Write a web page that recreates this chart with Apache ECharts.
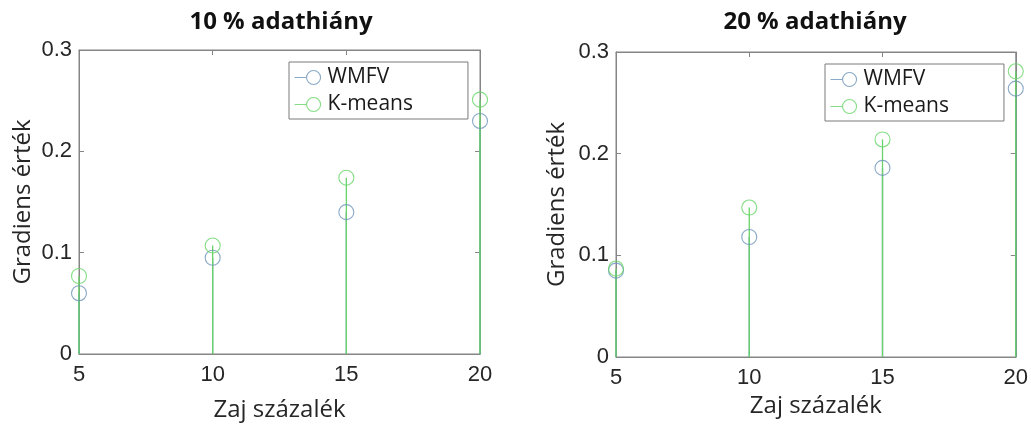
<!DOCTYPE html>
<html>
<head>
<meta charset="utf-8">
<script src="https://cdn.jsdelivr.net/npm/echarts@6/dist/echarts.min.js"></script>
<style>
  html, body { margin: 0; padding: 0; background: #fff; }
  #chart { width: 1031px; height: 427px; }
</style>
</head>
<body>
<div id="chart"></div>
<script>
// Noise level (%) on the x axis
const noiseLevels = [5, 10, 15, 20];

// Gradient values, 10 % missing data
const wmfv10 = [0.060, 0.095, 0.140, 0.230];
const kmeans10 = [0.077, 0.107, 0.174, 0.251];

// Gradient values, 20 % missing data
const wmfv20 = [0.085, 0.118, 0.186, 0.264];
const kmeans20 = [0.087, 0.147, 0.214, 0.281];

const panelTitles = ['10 % adathiány', '20 % adathiány'];
const xName = 'Zaj százalék';
const yName = 'Gradiens érték';
const seriesNames = ['WMFV', 'K-means'];

const BLUE = '#6b93b8';
const GREEN = '#66d466';
const AXIS = '#858585';
const TEXT = '#262626';

const pairs = (xs, ys) => xs.map((x, i) => [x, ys[i]]);

// legend glyph: short line ending in an open circle
const stemIcon = 'path://M0 7 L12 7 M26 7 A7 7 0 1 1 12 7 A7 7 0 1 1 26 7';

function stemSeries(gi, values, color) {
  return {
    type: 'custom',
    xAxisIndex: gi * 2,
    yAxisIndex: gi * 2,
    silent: true,
    z: 3,
    data: pairs(noiseLevels, values),
    renderItem: (params, api) => {
      const x = api.value(0);
      const top = api.coord([x, api.value(1)]);
      const base = api.coord([x, 0]);
      return {
        type: 'line',
        shape: { x1: base[0], y1: base[1], x2: top[0], y2: top[1] },
        style: { stroke: color, lineWidth: 1.3 }
      };
    }
  };
}

function markerSeries(gi, name, values, color) {
  return {
    type: 'scatter',
    name: name,
    xAxisIndex: gi * 2,
    yAxisIndex: gi * 2,
    z: 3,
    data: pairs(noiseLevels, values),
    symbol: 'circle',
    symbolSize: 15,
    itemStyle: { color: 'transparent', borderColor: color, borderWidth: 1.1 }
  };
}

// plot boxes, framed on all four sides
const gridFrame = { show: true, borderColor: AXIS, borderWidth: 1, backgroundColor: 'transparent' };
const grids = [
  Object.assign({ left: 79, right: 551, top: 50, bottom: 73 }, gridFrame),
  Object.assign({ left: 616, right: 15, top: 52, bottom: 70 }, gridFrame)
];

const xNameGaps = [44, 31];
const yNameGaps = [44, 47];

const axisLineStyle = { show: true, onZero: false, lineStyle: { color: AXIS, width: 1 } };
const axisTickStyle = { show: true, inside: true, length: 5, lineStyle: { color: AXIS } };

const xAxes = [], yAxes = [];
grids.forEach((g, gi) => {
  const base = {
    gridIndex: gi, type: 'value', min: 5, max: 20, interval: 5,
    axisLine: axisLineStyle, axisTick: axisTickStyle,
    splitLine: { show: false }
  };
  xAxes.push(Object.assign({}, base, {
    position: 'bottom',
    name: xName, nameLocation: 'middle', nameGap: xNameGaps[gi],
    nameTextStyle: { fontFamily: 'Open Sans', fontSize: 24, color: TEXT },
    axisLabel: { fontFamily: 'Liberation Sans', fontSize: 22, color: TEXT, margin: 10 }
  }));
  xAxes.push(Object.assign({}, base, { position: 'top', axisLabel: { show: false } }));

  const ybase = {
    gridIndex: gi, type: 'value', min: 0, max: 0.3, interval: 0.1,
    axisLine: axisLineStyle, axisTick: axisTickStyle,
    splitLine: { show: false }
  };
  yAxes.push(Object.assign({}, ybase, {
    position: 'left',
    name: yName, nameLocation: 'middle', nameGap: yNameGaps[gi], nameRotate: 90,
    nameTextStyle: { fontFamily: 'Open Sans', fontSize: 24, color: TEXT },
    axisLabel: { fontFamily: 'Liberation Sans', fontSize: 22, color: TEXT, margin: 7 }
  }));
  yAxes.push(Object.assign({}, ybase, { position: 'right', axisLabel: { show: false } }));
});

function legendFor(left, top) {
  return {
    left: left, top: top,
    orient: 'vertical',
    backgroundColor: '#fff',
    borderColor: '#7a7a7a',
    borderWidth: 1,
    padding: [5, 55, 4, 5],
    itemGap: 6,
    itemWidth: 26,
    itemHeight: 14,
    selectedMode: false,
    textStyle: { fontFamily: 'Open Sans', fontSize: 21, color: '#1a1a1a', padding: [0, 0, 0, 2] },
    data: [
      { name: seriesNames[0], icon: stemIcon,
        itemStyle: { color: 'transparent', borderColor: BLUE, borderWidth: 1.1 } },
      { name: seriesNames[1], icon: stemIcon,
        itemStyle: { color: 'transparent', borderColor: GREEN, borderWidth: 1.1 } }
    ]
  };
}

const titleStyle = { fontFamily: 'Open Sans', fontWeight: 'bold', fontSize: 24, color: '#111' };

const option = {
  backgroundColor: '#fff',
  animation: false,
  title: [
    { text: panelTitles[0], left: 276, top: 5, textAlign: 'center', textStyle: titleStyle },
    { text: panelTitles[1], left: 810, top: 5, textAlign: 'center', textStyle: titleStyle }
  ],
  legend: [legendFor(289, 62), legendFor(825, 64)],
  grid: grids,
  xAxis: xAxes,
  yAxis: yAxes,
  series: [
    stemSeries(0, wmfv10, BLUE),
    markerSeries(0, seriesNames[0], wmfv10, BLUE),
    stemSeries(0, kmeans10, GREEN),
    markerSeries(0, seriesNames[1], kmeans10, GREEN),
    stemSeries(1, wmfv20, BLUE),
    markerSeries(1, seriesNames[0], wmfv20, BLUE),
    stemSeries(1, kmeans20, GREEN),
    markerSeries(1, seriesNames[1], kmeans20, GREEN)
  ]
};

const chart = echarts.init(document.getElementById('chart'), null, { renderer: 'canvas' });
chart.setOption(option);
</script>
</body>
</html>
